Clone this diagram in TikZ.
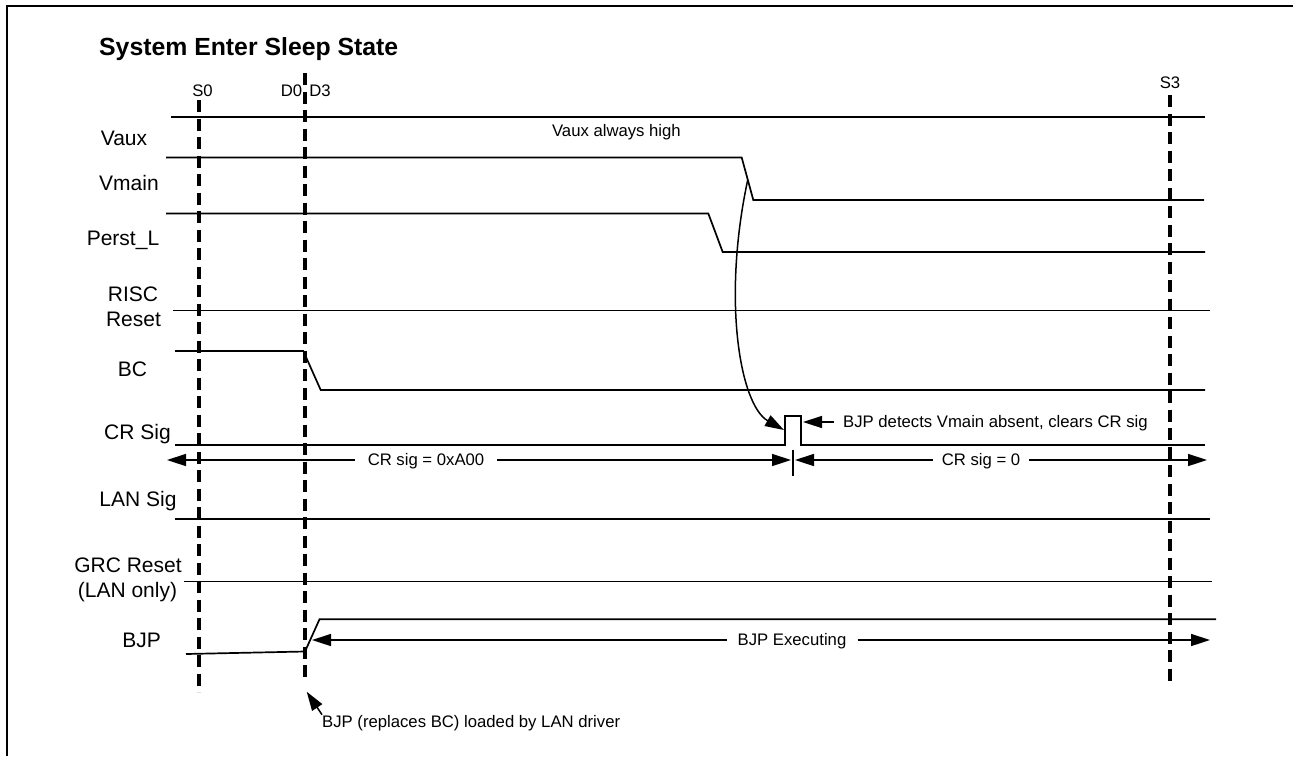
\documentclass[tikz,border=0pt]{standalone}
\usepackage{fontspec}
\setmainfont{Liberation Sans}
\usetikzlibrary{arrows.meta}
\tikzset{
  sig/.style={line width=1.7pt},
  guide/.style={line width=3.2pt, dash pattern=on 12pt off 6.5pt},
  lab/.style={font=\fontsize{21}{25}\selectfont, inner sep=0pt, anchor=base},
  small/.style={font=\fontsize{16.7}{19}\selectfont, inner sep=0pt},
  midtxt/.style={small, text height=11.8pt, text depth=0pt, fill=white},
  arr/.style={-{Triangle[length=19pt,width=12pt]}, line width=1.5pt},
}
\begin{document}
\begin{tikzpicture}[x=1pt,y=-1pt]
\useasboundingbox (0,0) rectangle (1293,756);
% frame
\draw[line width=2.4pt] (7,756) -- (7,6) -- (1293,6);
% title
\node[anchor=base west, inner sep=0pt, font=\bfseries\fontsize{24.8}{29}\selectfont] (title) at (99,55) {System Enter Sleep State};
% state labels
\node[small, anchor=base] (s0) at (202.5,96) {S0};
\node[small, anchor=base] (d0) at (291.5,96) {D0};
\node[small, anchor=base] (d3) at (320,96) {D3};
\node[small, anchor=base] (s3) at (1170,88) {S3};
% signal labels
\node[lab] (lvaux) at (124,145) {Vaux};
\node[lab] (lvmain) at (129,190) {Vmain};
\node[lab] (lperst) at (123,245) {Perst\_L};
\node[lab] (lrisc) at (133,301.7) {RISC};
\node[lab] (lrisc2) at (133.5,326) {Reset};
\node[lab] (lbc) at (132.5,376) {BC};
\node[lab] (lcr) at (137.5,439) {CR Sig};
\node[lab] (llan) at (138,506.7) {LAN Sig};
\node[lab] (lgrc) at (128,572.7) {GRC Reset};
\node[lab] (lgrc2) at (127.5,597.7) {(LAN only)};
\node[lab] (lbjp) at (141.7,647.7) {BJP};
% waveforms
\draw[sig] (171,117) -- (1205,117);
\draw[sig] (166,157.5) -- (741.7,157.5) -- (753.3,200) -- (1204,200);
\draw[sig] (166,213.5) -- (708.3,213.5) -- (722.7,252) -- (1205,252);
\draw[sig] (173,310.5) -- (1210,310.5);
\draw[sig] (175,351) -- (303.3,351) -- (320.7,390) -- (1205,390);
\draw[sig] (175,445) -- (785,445) -- (785,416) -- (801,416) -- (801,445) -- (1205,445);
\draw[sig] (175,519) -- (1210,519);
\draw[sig] (184,581.5) -- (1212,581.5);
\draw[sig] (186,654) -- (305,651.5) -- (319.5,619.3) -- (1216,619.3);
\node[small, anchor=base east] (vauxhigh) at (681,136) {Vaux always high};
% guides
\draw[guide] (199,100) -- (199,692);
\draw[guide] (305,73) -- (305,683);
\draw[guide] (1170,95) -- (1170,685);
% curve from Vmain fall to CR pulse
\coordinate (cstart) at (747.7,180);
\coordinate (ctip) at (784,430);
\draw[arr] (cstart) .. controls (722,300) and (740,405) .. (ctip);
% detect note
\node[midtxt, anchor=west, inner xsep=9pt, inner ysep=0pt, fill=none] (det) at (834,422) {BJP detects Vmain absent, clears CR sig};
\coordinate (dettip) at (803,422);
\draw[arr] (det.west) -- (dettip);
% CR sig spans
\coordinate (crL) at (167,460);
\coordinate (crM1) at (791,460);
\coordinate (crM2) at (795,460);
\coordinate (crR) at (1207,460);
\node[midtxt, inner xsep=13pt, inner ysep=0pt] (crA) at (426,460) {CR sig = 0xA00};
\node[midtxt, inner xsep=9pt, inner ysep=0pt] (crB) at (981,460) {CR sig = 0};
\draw[arr] (crA.west) -- (crL);
\draw[arr] (crA.east) -- (crM1);
\draw[arr] (crB.west) -- (crM2);
\draw[arr] (crB.east) -- (crR);
\coordinate (tickT) at (793,450);
\coordinate (tickB) at (793,476);
\draw[line width=1.2pt] (tickT) -- (tickB);
% BJP executing
\coordinate (exL) at (312,640);
\coordinate (exR) at (1210,640);
\node[midtxt, inner xsep=11pt, inner ysep=0pt] (exec) at (792,640) {BJP Executing};
\draw[arr] (exec.west) -- (exL);
\draw[arr] (exec.east) -- (exR);
% bottom note
\node[small, anchor=base west] (note) at (322,727) {BJP (replaces BC) loaded by LAN driver};
\coordinate (notetip) at (306.7,691.7);
\draw[arr] (note.north west) -- (notetip);
\end{tikzpicture}
\end{document}
